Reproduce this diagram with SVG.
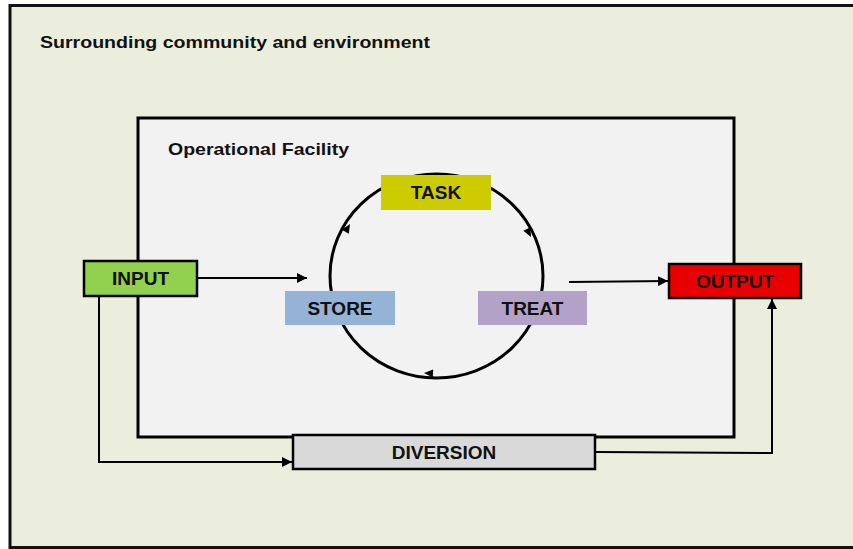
<svg xmlns="http://www.w3.org/2000/svg" width="853" height="549" viewBox="0 0 853 549">
<defs>
<style>
text{font-family:"Liberation Sans",Arial,sans-serif;font-weight:bold;fill:#111;}
.lbl{font-size:19px;text-anchor:middle;}
.box{stroke:#000;stroke-width:2.5;}
.flat{stroke:none;}
.ln{fill:none;stroke:#000;stroke-width:2;}
.cyc{fill:none;stroke:#000;stroke-width:3;}
</style>
<marker id="ah" viewBox="0 0 10 10" refX="10" refY="5" markerWidth="5" markerHeight="5" orient="auto" markerUnits="strokeWidth">
<path d="M0,0 L10,5 L0,10 z" fill="#000"/>
</marker>
</defs>
<rect width="853" height="549" fill="#ffffff"/>
<g id="environment">
<rect x="10" y="5.5" width="860" height="542" fill="#EBEEDD" stroke="#111" stroke-width="3"/>
<text x="40" y="48" font-size="17" textLength="390" lengthAdjust="spacingAndGlyphs">Surrounding community and environment</text>
</g>
<g id="facility">
<rect x="138" y="118" width="596" height="319" fill="#F2F2F2" stroke="#000" stroke-width="3"/>
<text x="168" y="155" font-size="17" textLength="181" lengthAdjust="spacingAndGlyphs">Operational Facility</text>
</g>
<g id="connectors">
<ellipse cx="436.5" cy="276" rx="106.5" ry="102" class="cyc"/>
<polygon points="0,0 -9,-4 -9,4" fill="#000" transform="translate(350,224) rotate(-59)"/>
<polygon points="0,0 -9,-4 -9,4" fill="#000" transform="translate(531,237) rotate(63)"/>
<polygon points="0,0 -9,-4 -9,4" fill="#000" transform="translate(424,373) rotate(183)"/>
<line x1="197" y1="278" x2="307" y2="278" class="ln" marker-end="url(#ah)"/>
<line x1="569" y1="282" x2="668" y2="281" class="ln" marker-end="url(#ah)"/>
<polyline points="99,296 99,462 292,462" class="ln" marker-end="url(#ah)"/>
<polyline points="596,452 772,453 772,299" class="ln" marker-end="url(#ah)"/>
</g>
<g id="input">
<rect x="84" y="261" width="113" height="35" fill="#92D050" class="box"/>
<text x="140.5" y="285" class="lbl">INPUT</text>
</g>
<g id="task">
<rect x="381" y="175" width="110" height="35" fill="#CCCC00" class="flat"/>
<text x="436" y="199" class="lbl">TASK</text>
</g>
<g id="store">
<rect x="285" y="291" width="110" height="34" fill="#95B3D7" class="flat"/>
<text x="340" y="315" class="lbl">STORE</text>
</g>
<g id="treat">
<rect x="478" y="291" width="109" height="34" fill="#B3A2C7" class="flat"/>
<text x="532.5" y="315" class="lbl">TREAT</text>
</g>
<g id="output">
<rect x="669" y="264" width="132" height="34" fill="#E80000" class="box"/>
<text x="735" y="288" class="lbl">OUTPUT</text>
</g>
<g id="diversion">
<rect x="293" y="435" width="302" height="34" fill="#D9D9D9" class="box"/>
<text x="444" y="459" class="lbl">DIVERSION</text>
</g>
</svg>
